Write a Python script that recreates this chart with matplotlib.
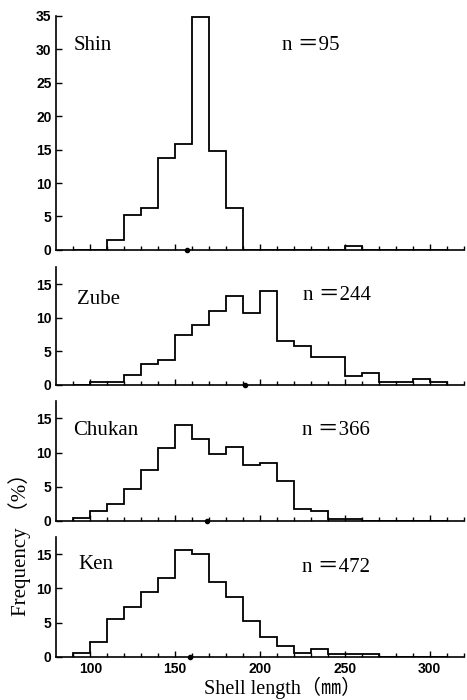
import matplotlib.pyplot as plt
import numpy as np

# bin edges (mm) and frequency (%) per 10 mm class
edges = np.arange(90, 320, 10)

shin = [0, 0, 1.5, 5.25, 6.3, 13.7, 15.9, 34.8, 14.8, 6.3, 0, 0,
        0, 0, 0, 0, 0.6, 0, 0, 0, 0, 0]
zube = [0, 0.4, 0.4, 1.5, 3.2, 3.7, 7.4, 9.0, 11.0, 13.2, 10.7, 14.0,
        6.6, 5.8, 4.2, 4.2, 1.3, 1.8, 0.5, 0.5, 0.9, 0.4]
chukan = [0.45, 1.5, 2.5, 4.6, 7.4, 10.6, 14.0, 12.0, 9.8, 10.8, 8.2, 8.5,
          5.8, 1.7, 1.4, 0.3, 0.3, 0, 0, 0, 0, 0]
ken = [0.6, 2.2, 5.5, 7.3, 9.5, 11.6, 15.7, 15.0, 10.9, 8.8, 5.3, 2.9,
       1.5, 0.5, 1.1, 0.35, 0.45, 0.45, 0, 0, 0, 0]

sites = ['Shin', 'Zube', 'Chukan', 'Ken']
n_counts = [95, 244, 366, 472]
means = [157, 191, 169, 158.5]
series = [shin, zube, chukan, ken]

serif = ['Liberation Serif', 'Noto Sans CJK JP', 'DejaVu Sans']

fig = plt.figure(figsize=(4.67, 7), dpi=100)

# axes boxes [left, bottom, width, height] in figure fraction
boxes = [[0.1206, 0.6429, 0.872, 0.3347],
         [0.1206, 0.4500, 0.872, 0.1687],
         [0.1206, 0.2561, 0.872, 0.1714],
         [0.1206, 0.0619, 0.872, 0.1714]]
ymax = [35, 17.6, 17.6, 17.6]
name_xy = [(90, 29.8), (92, 12.0), (90, 12.6), (93, 12.9)]
n_xy = [(213, 29.8), (225.5, 12.6), (224.5, 12.6), (225, 12.4)]

for i in range(4):
    ax = fig.add_axes(boxes[i])
    ax.stairs(series[i], edges, color='k', lw=1.3, baseline=0)
    ax.plot(means[i], 0, 'o', ms=3, mfc='k', mec='k', clip_on=False,
            zorder=5)
    ax.set_xlim(80, 320)
    ax.set_ylim(0, ymax[i])
    ax.spines['top'].set_visible(False)
    ax.spines['right'].set_visible(False)
    ax.spines['left'].set_linewidth(1.2)
    ax.spines['bottom'].set_linewidth(1.2)
    ax.set_xticks([100, 150, 200, 250, 300])
    ax.set_xticks(np.arange(90, 330, 10), minor=True)
    ax.set_yticks(np.arange(0, ymax[i] + 0.1, 5))
    ax.tick_params(direction='in', length=4.5, width=1, labelsize=10,
                   pad=3.5)
    ax.tick_params(which='minor', direction='in', length=3, width=1)
    for lab in ax.get_yticklabels():
        lab.set_fontweight('bold')
        lab.set_family('Liberation Sans')
    if i < 3:
        ax.tick_params(labelbottom=False)
    else:
        for lab in ax.get_xticklabels():
            lab.set_fontweight('bold')
            lab.set_family('Liberation Sans')
    ax.text(name_xy[i][0], name_xy[i][1], sites[i], family=serif,
            fontsize=15, va='baseline')
    ax.text(n_xy[i][0], n_xy[i][1], 'n ＝' + str(n_counts[i]), family=serif,
            fontsize=15, va='baseline')

fig.text(0.606, 0.017, 'Shell length（㎜）', family=serif, fontsize=14.5,
         ha='center', va='center')
fig.text(0.043, 0.23, 'Frequency （%）', family=serif, fontsize=15,
         rotation=90, ha='center', va='center')

fig.savefig('out.png', dpi=100)
